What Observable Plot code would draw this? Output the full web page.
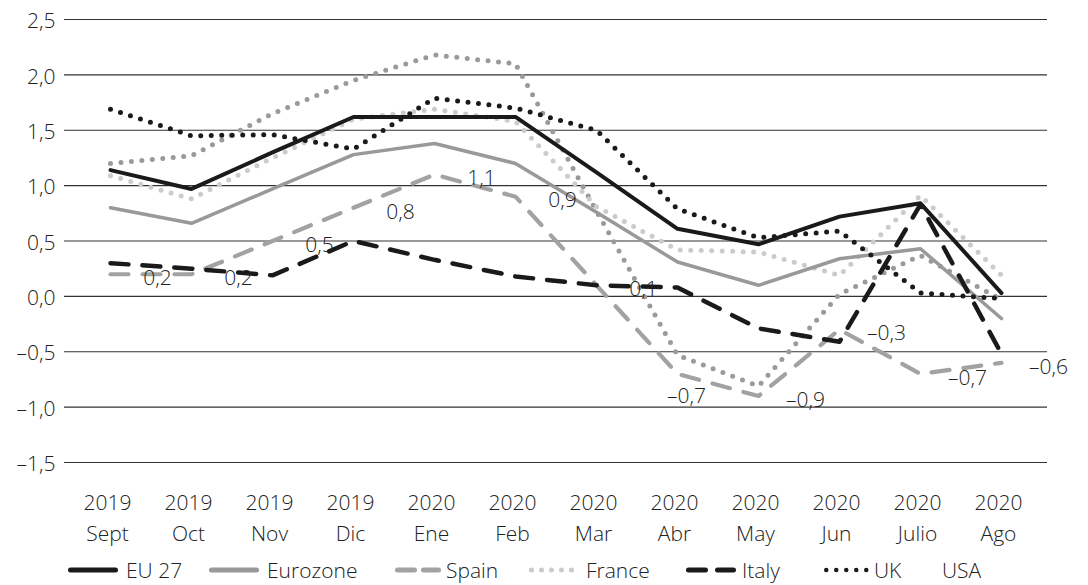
<!DOCTYPE html>
<html><head><meta charset="utf-8">
<script src="https://cdn.jsdelivr.net/npm/d3@7"></script>
<script src="https://cdn.jsdelivr.net/npm/@observablehq/plot@0.6"></script>
<style>
body{margin:0;background:#fff;font-family:"Open Sans",sans-serif;font-weight:300;color:#222;}
#wrap{position:relative;width:1088px;height:585px;overflow:hidden;}
#legend{position:absolute;left:0;top:555px;width:1088px;height:30px;}
.txt{position:absolute;top:0;height:30px;line-height:30px;font-size:21px;font-weight:300;color:#222;white-space:nowrap;}
.sw{position:absolute;top:0;}
</style></head><body><div id="wrap"><div id="chart"></div><div id="legend"></div></div>
<script>
// Categories
const years  = ["2019","2019","2019","2019","2020","2020","2020","2020","2020","2020","2020","2020"];
const months = ["Sept","Oct","Nov","Dic","Ene","Feb","Mar","Abr","May","Jun","Julio","Ago"];
const yTicks = [-1.5,-1.0,-0.5,0.0,0.5,1.0,1.5,2.0,2.5];

// Series values
const eu27     = [1.14,0.97,1.30,1.62,1.62,1.62,1.12,0.61,0.47,0.72,0.84,0.03];
const eurozone = [0.80,0.66,0.97,1.28,1.38,1.20,0.76,0.31,0.10,0.34,0.43,-0.20];
const spain    = [0.2,0.2,0.5,0.8,1.1,0.9,0.1,-0.7,-0.9,-0.3,-0.7,-0.6];
const france   = [1.09,0.88,1.25,1.60,1.69,1.58,0.81,0.42,0.40,0.19,0.91,0.19];
const italy    = [0.30,0.25,0.19,0.50,0.33,0.18,0.10,0.08,-0.29,-0.41,0.83,-0.52];
const uk       = [1.69,1.45,1.46,1.33,1.79,1.70,1.50,0.79,0.53,0.59,0.03,-0.02];
const usa      = [1.20,1.27,1.65,1.95,2.18,2.10,0.77,-0.53,-0.81,0.02,0.37,-0.03];
const seriesNames = ["EU 27","Eurozone","Spain","France","Italy","UK","USA"];

const cats = months.map((m,i)=>years[i]+"\n"+m);
const seriesVals = {"EU 27":eu27,"Eurozone":eurozone,"Spain":spain,"France":france,"Italy":italy,"UK":uk,"USA":usa};
const rows = seriesNames.flatMap(s => seriesVals[s].map((v,i)=>({series:s, cat:cats[i], month:months[i], v})));
const fmt = v => (v<0?"\u2013":"") + Math.abs(v).toFixed(1).replace(".",",");

const styles = {
  "USA":      {stroke:"#9a9a9a", strokeWidth:5, strokeDasharray:"0,10.5", strokeLinecap:"round"},
  "France":   {stroke:"#cbcbcb", strokeWidth:5, strokeDasharray:"0,10.5", strokeLinecap:"round"},
  "Eurozone": {stroke:"#999999", strokeWidth:3.5},
  "Spain":    {stroke:"#a2a2a2", strokeWidth:4.2, strokeDasharray:"18,14", strokeLinecap:"round"},
  "Italy":    {stroke:"#1a1a1a", strokeWidth:4.5, strokeDasharray:"18,14", strokeLinecap:"round"},
  "EU 27":    {stroke:"#1a1a1a", strokeWidth:4},
  "UK":       {stroke:"#1a1a1a", strokeWidth:5, strokeDasharray:"0,10.5", strokeLinecap:"round"}
};
const drawOrder = ["USA","France","Eurozone","Spain","Italy","EU 27","UK"];

const spainRows = rows.filter(d=>d.series==="Spain");

const chart = Plot.plot({
  width:1088, height:555,
  marginLeft:64, marginRight:41, marginTop:19, marginBottom:93,
  style:{fontFamily:"Open Sans", fontSize:"21px", fontWeight:300, color:"#222", background:"#fff"},
  x:{type:"point", domain:cats, padding:0.5, label:null},
  y:{domain:[-1.5,2.5], label:null},
  marks:[
    Plot.ruleY(yTicks, {stroke:"#333", strokeWidth:1.2}),
    ...drawOrder.map(s => Plot.line(rows.filter(d=>d.series===s), {x:"cat", y:"v", ...styles[s], strokeLinejoin:"round"})),
    Plot.text(spainRows.filter(d=>d.month!=="Abr"), {x:"cat", y:"v", text:d=>fmt(d.v), dx:47, dy:4, fontSize:21, fill:"#222"}),
    Plot.text(spainRows.filter(d=>d.month==="Abr"), {x:"cat", y:"v", text:d=>fmt(d.v), dx:9, dy:22, fontSize:21, fill:"#222"}),
    Plot.axisY(yTicks, {tickSize:0, tickPadding:9, tickFormat:fmt, fontSize:21, dy:2, fill:"#222"}),
    Plot.axisX({tickSize:0, tickPadding:25, lineHeight:1.48, fontSize:21, dx:-3, fill:"#222"})
  ]
});
document.getElementById("chart").appendChild(chart);

// Legend
const legendItems = [
  {name:"EU 27",    sw:68,  tx:126, w:50, dash:null,    color:"#1a1a1a", sw_w:5},
  {name:"Eurozone", sw:209, tx:267, w:50, dash:null,    color:"#999999", sw_w:5},
  {name:"Spain",    sw:395, tx:446, w:46, dash:"17,9",  color:"#a2a2a2", sw_w:5},
  {name:"France",   sw:529, tx:586, w:50, dash:"0,10",  color:"#cbcbcb", sw_w:5},
  {name:"Italy",    sw:686, tx:742, w:50, dash:"17,12", color:"#1a1a1a", sw_w:5},
  {name:"UK",       sw:824, tx:874, w:46, dash:"0,10",  color:"#1a1a1a", sw_w:4.5},
  {name:"USA",      sw:null,tx:942}
];
const leg = document.getElementById("legend");
for (const it of legendItems) {
  if (it.sw !== null) {
    const svg = d3.create("svg").attr("class","sw").attr("width",it.w+4).attr("height",30)
      .style("left",(it.sw-2)+"px");
    const ln = svg.append("line").attr("x1",2+it.sw_w/2).attr("x2",it.w+2-it.sw_w/2).attr("y1",15).attr("y2",15)
      .attr("stroke",it.color).attr("stroke-width",it.sw_w).attr("stroke-linecap","round");
    if (it.dash) ln.attr("stroke-dasharray",it.dash);
    leg.appendChild(svg.node());
  }
  const t = document.createElement("div");
  t.className="txt"; t.style.left=it.tx+"px"; t.textContent=it.name;
  leg.appendChild(t);
}
</script></body></html>
